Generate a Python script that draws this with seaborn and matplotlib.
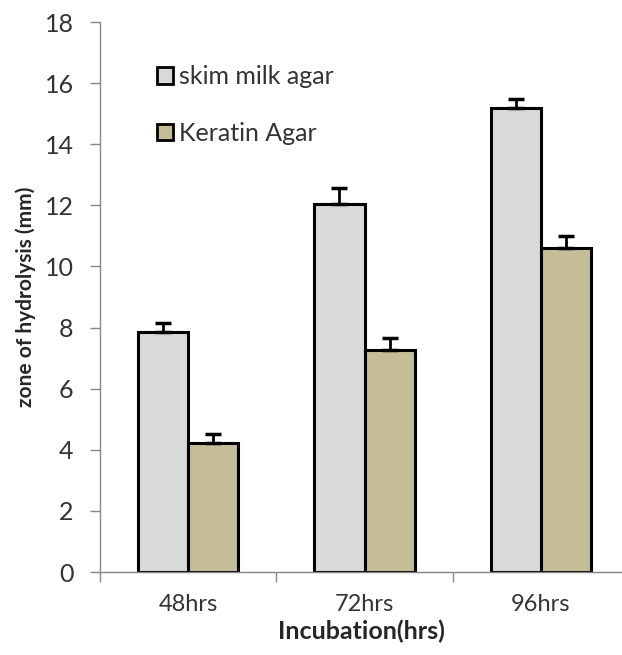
import matplotlib
matplotlib.use("Agg")
import matplotlib.pyplot as plt
import seaborn as sns
import pandas as pd
from matplotlib.patches import Patch

categories = ["48hrs", "72hrs", "96hrs"]
series = ["skim milk agar", "Keratin Agar"]
skim_values = [7.84, 12.03, 15.18]
keratin_values = [4.23, 7.28, 10.62]
skim_err = [0.32, 0.53, 0.30]
keratin_err = [0.30, 0.39, 0.38]
colors = ["#D9D9D9", "#C4BD97"]

df = pd.DataFrame({
    "Incubation": categories * 2,
    "Medium": [series[0]] * 3 + [series[1]] * 3,
    "value": skim_values + keratin_values,
    "err": skim_err + keratin_err,
})

sns.set_theme(style="white")
plt.rcParams["font.family"] = ["Lato", "DejaVu Sans"]

fig = plt.figure(figsize=(6.22, 6.55), dpi=100)
ax = fig.add_axes([100 / 622, 1 - 572 / 655, 522 / 622, 550 / 655])

sns.barplot(data=df, x="Incubation", y="value", hue="Medium", order=categories,
            hue_order=series, palette=colors, width=0.57, gap=0, errorbar=None,
            edgecolor="black", linewidth=2.2, ax=ax, legend=False, saturation=1)

# error bars (upward only), positioned on the bar centres
for i, s in enumerate(series):
    sub = df[df["Medium"] == s].set_index("Incubation").loc[categories]
    conts = ax.containers[i]
    xs = [p.get_x() + p.get_width() / 2 for p in conts]
    ax.errorbar(xs, sub["value"], yerr=[[0] * 3, list(sub["err"])], fmt="none",
                ecolor="black", elinewidth=2, capsize=6, capthick=2.5, zorder=1)

ax.set_ylim(0, 18)
ax.set_xlim(-0.5, 2.46)
ax.set_yticks(range(0, 19, 2))
ax.set_xticks([-0.5, 0.5, 1.5], minor=True)
ax.tick_params(axis="x", which="major", length=0, labelsize=17, pad=16)
ax.tick_params(axis="x", which="minor", length=7, color="#868686", width=1, direction="out")
ax.tick_params(axis="y", length=7, color="#868686", width=1, direction="out", labelsize=18,
               pad=12)
ax.tick_params(axis="x", which="minor", bottom=True)
ax.tick_params(axis="y", left=True)
for lab in ax.get_yticklabels() + ax.get_xticklabels():
    lab.set_color("#333333")
for sp in ["top", "right"]:
    ax.spines[sp].set_visible(False)
for sp in ["left", "bottom"]:
    ax.spines[sp].set_color("#868686")
    ax.spines[sp].set_linewidth(1)

ax.set_ylabel("zone of hydrolysis (mm)", fontsize=15, fontweight="bold", labelpad=6)
ax.set_xlabel("Incubation(hrs)", fontsize=18, fontweight="bold", labelpad=3)

handles = [Patch(facecolor=c, edgecolor="black", linewidth=2) for c in colors]
leg = ax.legend(handles, series, loc="upper left", bbox_to_anchor=(0.09, 0.94),
                frameon=False, fontsize=18, handlelength=0.65, handleheight=0.65,
                handletextpad=0.25, labelspacing=1.35, borderaxespad=0)
for t in leg.get_texts():
    t.set_color("#333333")

fig.savefig("out.png", dpi=100)
